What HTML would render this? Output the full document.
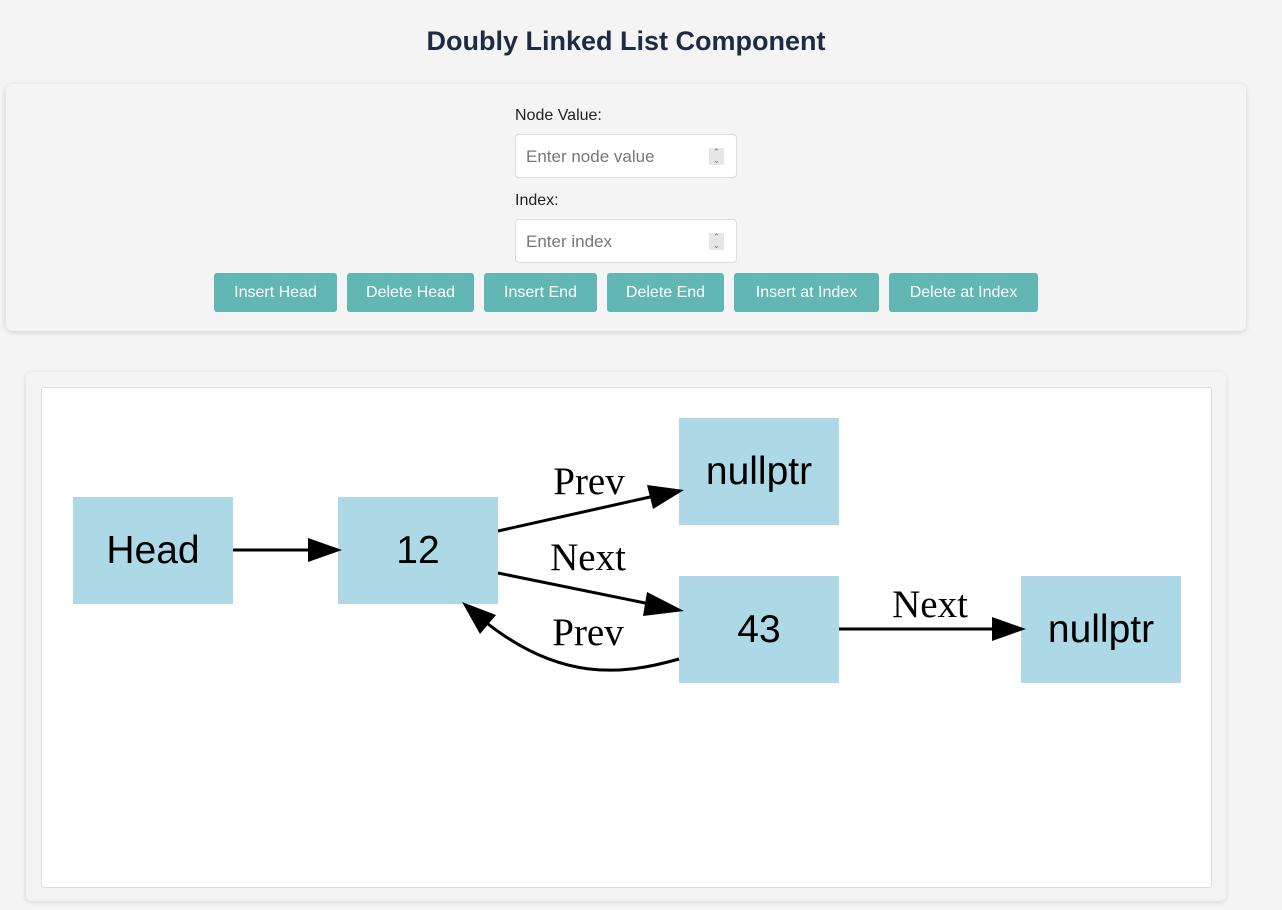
<!DOCTYPE html>
<html><head><style>
body{margin:0;width:1282px;height:910px;background:#f4f4f4;font-family:"Liberation Sans",sans-serif;position:relative;overflow:hidden}
.abs{position:absolute}
h1{position:absolute;left:0;width:1252px;top:26px;margin:0;text-align:center;font-size:27px;font-weight:bold;color:#1f2a44}
.p1{left:6px;top:84px;width:1240px;height:247px;background:#f4f4f4;border-radius:6px;box-shadow:0 1px 6px rgba(0,0,0,.15)}
.lbl{font-size:16px;color:#222}
.inp{width:222px;height:44px;background:#fff;border:1px solid #ddd;border-radius:4px;box-sizing:border-box;color:#777;font-size:17px;padding:12px 10px}
.spin{position:absolute;right:12px;top:13px;width:15px;height:17px;background:#e6e6ea;font-size:9px;line-height:8px;text-align:center;color:#777}
.btn{top:273px;height:39px;background:#62b6b3;color:#fff;border-radius:3px;font-size:16px;line-height:40px;text-align:center}
.p2{left:26px;top:372px;width:1200px;height:529px;background:#f4f4f4;border-radius:6px;box-shadow:0 1px 6px rgba(0,0,0,.12)}
.p3{left:41px;top:387px;width:1171px;height:501px;background:#fff;border:1px solid #ddd;border-radius:3px;box-sizing:border-box}
</style></head><body>
<h1>Doubly Linked List Component</h1>
<div class="abs p1"></div>
<div class="abs lbl" style="left:515px;top:107px">Node Value:</div>
<div class="abs inp" style="left:515px;top:134px">Enter node value<div class="spin">⌃<br>⌄</div></div>
<div class="abs lbl" style="left:515px;top:192px">Index:</div>
<div class="abs inp" style="left:515px;top:219px">Enter index<div class="spin">⌃<br>⌄</div></div>
<div class="abs btn" style="left:214px;width:123px">Insert Head</div>
<div class="abs btn" style="left:347px;width:127px">Delete Head</div>
<div class="abs btn" style="left:484px;width:113px">Insert End</div>
<div class="abs btn" style="left:607px;width:117px">Delete End</div>
<div class="abs btn" style="left:734px;width:145px">Insert at Index</div>
<div class="abs btn" style="left:889px;width:149px">Delete at Index</div>
<div class="abs p2"></div>
<div class="abs p3"></div>
<svg class="abs" style="left:0;top:0" width="1282" height="910">
<g fill="#add8e6">
<rect x="73" y="497" width="160" height="107"/>
<rect x="338" y="497" width="160" height="107"/>
<rect x="679" y="418" width="160" height="107"/>
<rect x="679" y="576" width="160" height="107"/>
<rect x="1021" y="576" width="160" height="107"/>
</g>
<g font-family="Liberation Sans" font-size="39" text-anchor="middle" fill="#000">
<text x="153" y="563">Head</text>
<text x="418" y="563">12</text>
<text x="759" y="484">nullptr</text>
<text x="759" y="642">43</text>
<text x="1101" y="642">nullptr</text>
</g>
<g stroke="#000" stroke-width="3" fill="none">
<line x1="233" y1="550" x2="308" y2="550"/>
<line x1="498" y1="531" x2="650" y2="497"/>
<line x1="498" y1="573" x2="650" y2="604"/>
<path d="M679 659 C620 676 560 680 488 624"/>
<line x1="839" y1="629" x2="992" y2="629"/>
</g>
<g fill="#000">
<polygon points="342,550 308,538 308,562"/>
<polygon points="684,490 647,485 653,509"/>
<polygon points="684,611 647,592 643,616"/>
<polygon points="462,602 480,634 496,615"/>
<polygon points="1026,629 992,617 992,641"/>
</g>
<g font-family="Liberation Serif" font-size="39" text-anchor="middle" fill="#000">
<text x="589" y="494">Prev</text>
<text x="588" y="570">Next</text>
<text x="588" y="645">Prev</text>
<text x="930" y="617">Next</text>
</g>
</svg>
</body></html>
